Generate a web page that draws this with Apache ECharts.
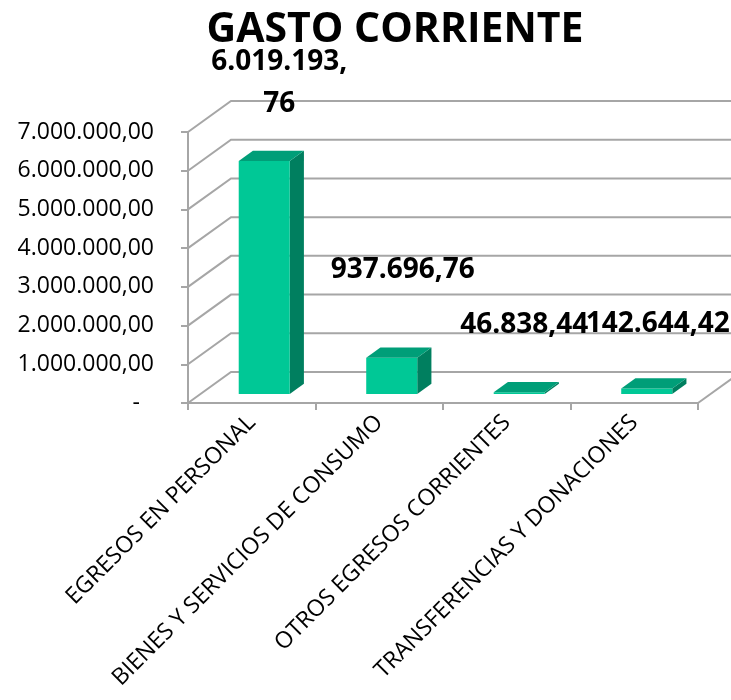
<!DOCTYPE html>
<html>
<head>
<meta charset="utf-8">
<script src="https://cdn.jsdelivr.net/npm/echarts@6/dist/echarts.min.js"></script>
<style>
  html, body { margin: 0; padding: 0; background: #fff; }
  #chart { width: 731px; height: 700px; }
</style>
</head>
<body>
<div id="chart"></div>
<script>
// datos
var categorias = ['EGRESOS EN PERSONAL', 'BIENES Y SERVICIOS DE CONSUMO', 'OTROS EGRESOS CORRIENTES', 'TRANSFERENCIAS Y DONACIONES'];
var valores = [6019193.76, 937696.76, 46838.44, 142644.42];
var ticksY = [0, 1000000, 2000000, 3000000, 4000000, 5000000, 6000000, 7000000];

// efecto 3d (pixeles)
var prof = [43, -31];       // fondo de la caja
var barD1 = 0.29, barD2 = 0.62;
var labelShift = [[15, -78], [11, -88], [5, -67], [11, -64]];
var cortarEnComa = [true, false, false, false];

var FONT = 'Open Sans';
var GRIS = '#a6a6a6';

function fmt(v) {
    var s = v.toFixed(2).split('.');
    var ent = s[0].replace(/\B(?=(\d{3})+(?!\d))/g, '.');
    return ent + ',' + s[1];
}

var myChart = echarts.init(document.getElementById('chart'));

function paredes(params, api) {
    var v = api.value(1);
    var band = api.size([1, 0])[0];
    var p0 = api.coord([0, v]);
    var p3 = api.coord([categorias.length - 1, v]);
    var xl = p0[0] - band / 2, xr = p3[0] + band / 2, y = p0[1];
    var hijos = [{
        type: 'polyline',
        shape: { points: [[xl, y], [xl + prof[0], y + prof[1]], [xr + prof[0], y + prof[1]]] },
        style: { stroke: GRIS, lineWidth: 2, fill: null }
    }];
    if (v === 0) {
        hijos.push({
            type: 'line',
            shape: { x1: xr, y1: y, x2: xr + prof[0], y2: y + prof[1] },
            style: { stroke: GRIS, lineWidth: 2 }
        });
    }
    return { type: 'group', children: hijos };
}

function barras3d(params, api) {
    var i = api.value(0);
    var v = api.value(1);
    var band = api.size([1, 0])[0];
    var w = band * 0.4;
    var c0 = api.coord([i, 0]);
    var c1 = api.coord([i, v]);
    var fx = c0[0] - w / 2 + barD1 * prof[0];
    var fyB = c0[1] + barD1 * prof[1];
    var fyT = c1[1] + barD1 * prof[1];
    var dx = (barD2 - barD1) * prof[0], dy = (barD2 - barD1) * prof[1];
    var txt = fmt(v);
    if (cortarEnComa[i]) txt = txt.replace(',', ',\n');
    var sh = labelShift[i];
    return {
        type: 'group',
        children: [
            { type: 'polygon', shape: { points: [[fx + w, fyT], [fx + w, fyB], [fx + w + dx, fyB + dy], [fx + w + dx, fyT + dy]] },
              style: { fill: '#007f5f' } },
            { type: 'rect', shape: { x: fx, y: fyT, width: w, height: Math.max(fyB - fyT, 1) },
              style: { fill: '#00c896' } },
            { type: 'polygon', shape: { points: [[fx, fyT], [fx + w, fyT], [fx + w + dx, fyT + dy], [fx + dx, fyT + dy]] },
              style: { fill: '#009e78' } },
            { type: 'text', x: fx + w / 2 + sh[0], y: fyT + sh[1],
              style: { text: txt, fill: '#000', font: 'bold 28px "' + FONT + '"', align: 'center', verticalAlign: 'middle', lineHeight: 42 } }
        ]
    };
}

var option = {
    animation: false,
    title: {
        text: 'GASTO CORRIENTE',
        left: 390, top: 5, textAlign: 'center',
        textStyle: { fontFamily: FONT, fontWeight: 'bold', fontSize: 41, color: '#000' }
    },
    grid: { left: 188, right: 33, top: 132, bottom: 297, containLabel: false },
    xAxis: {
        type: 'category',
        data: categorias,
        axisLine: { lineStyle: { color: GRIS, width: 2 } },
        axisTick: { show: true, length: 7, lineStyle: { color: GRIS, width: 2 } },
        axisLabel: { rotate: 45, interval: 0, margin: 16, color: '#000', fontFamily: FONT, fontSize: 23 },
        splitLine: { show: false }
    },
    yAxis: {
        type: 'value',
        min: 0, max: 7000000, interval: 1000000,
        axisLine: { show: true, lineStyle: { color: GRIS, width: 2 } },
        axisTick: { show: true, length: 7, lineStyle: { color: GRIS, width: 2 } },
        axisLabel: {
            margin: 34, color: '#000', fontFamily: FONT, fontSize: 23,
            formatter: function (v) { return v === 0 ? '{z|-}' : fmt(v); },
            rich: { z: { padding: [0, 14, 0, 0], fontFamily: FONT, fontSize: 23, color: '#000' } }
        },
        splitLine: { show: false }
    },
    series: [
        { type: 'custom', name: 'paredes', renderItem: paredes, data: ticksY.map(function (t) { return [0, t]; }), z: 1, silent: true },
        { type: 'custom', name: 'Gasto', renderItem: barras3d, data: valores.map(function (v, i) { return [i, v]; }), z: 3 }
    ]
};
myChart.setOption(option);
</script>
</body>
</html>
